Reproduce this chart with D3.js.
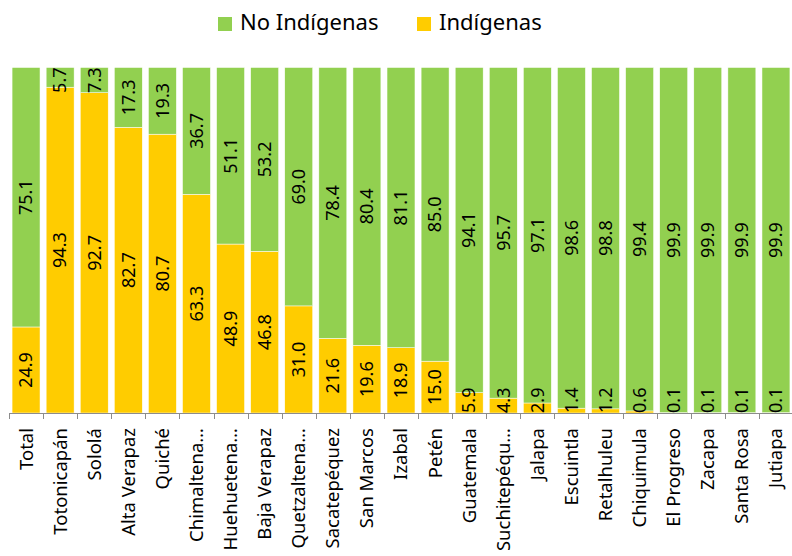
<!DOCTYPE html>
<meta charset="utf-8">
<style>
    body { margin: 0; background: #fff; }
    svg { font-family: "Noto Sans", sans-serif; }
    .axis path, .axis line { fill: none; stroke: #8c8c8c; shape-rendering: crispEdges; }
</style>
<body>
<script src="https://d3js.org/d3.v7.min.js"></script>
<script>
    // departamentos, porcentaje de poblacion indigena / no indigena
    const categories = ["Total", "Totonicapán", "Sololá", "Alta Verapaz", "Quiché", "Chimaltena…",
        "Huehuetena…", "Baja Verapaz", "Quetzaltena…", "Sacatepéquez", "San Marcos", "Izabal",
        "Petén", "Guatemala", "Suchitepéqu…", "Jalapa", "Escuintla", "Retalhuleu", "Chiquimula",
        "El Progreso", "Zacapa", "Santa Rosa", "Jutiapa"];
    const indigenas = [24.9, 94.3, 92.7, 82.7, 80.7, 63.3, 48.9, 46.8, 31.0, 21.6, 19.6, 18.9,
        15.0, 5.9, 4.3, 2.9, 1.4, 1.2, 0.6, 0.1, 0.1, 0.1, 0.1];
    const noIndigenas = [75.1, 5.7, 7.3, 17.3, 19.3, 36.7, 51.1, 53.2, 69.0, 78.4, 80.4, 81.1,
        85.0, 94.1, 95.7, 97.1, 98.6, 98.8, 99.4, 99.9, 99.9, 99.9, 99.9];
    const seriesNames = ["Indígenas", "No Indígenas"];

    const width = 792, height = 556;
    const plot = {left: 9, right: 793, top: 67.5, bottom: 413};

    const color = d3.scaleOrdinal()
        .domain(seriesNames)
        .range(["#ffcc00", "#92d050"]);

    const svg = d3.select("body").append("svg")
        .attr("width", width)
        .attr("height", height);

    const x = d3.scaleBand()
        .domain(categories)
        .range([plot.left, plot.right])
        .paddingInner(0.18)
        .paddingOuter(0.09);

    const y = d3.scaleLinear()
        .domain([0, 100])
        .range([plot.bottom, plot.top]);

    const rows = categories.map((c, i) => ({cat: c, "Indígenas": indigenas[i], "No Indígenas": noIndigenas[i]}));
    const stack = d3.stack().keys(seriesNames)(rows);

    const layers = svg.append("g").selectAll("g")
        .data(stack)
        .join("g")
        .attr("fill", d => color(d.key));

    layers.selectAll("rect")
        .data(d => d)
        .join("rect")
        .attr("x", d => x(d.data.cat))
        .attr("width", x.bandwidth())
        .attr("y", d => y(d[1]))
        .attr("height", d => y(d[0]) - y(d[1]))
        .attr("stroke", "#ffffff")
        .attr("stroke-width", 0.5);

    // value labels, rotated, kept inside the plot area
    stack.forEach(layer => {
        layer.forEach(d => {
            const cx = x(d.data.cat) + x.bandwidth() / 2;
            const t = svg.append("text")
                .attr("font-size", 18)
                .attr("text-anchor", "middle")
                .attr("dy", "0.35em")
                .attr("fill", "#000")
                .text(d3.format(".1f")(d[1] - d[0]));
            const half = t.node().getComputedTextLength() / 2;
            let cy = (y(d[0]) + y(d[1])) / 2;
            cy = Math.max(plot.top + half, Math.min(plot.bottom - half, cy));
            t.attr("transform", "translate(" + cx + "," + cy + ") rotate(-90)");
        });
    });

    // x axis
    const axis = svg.append("g").attr("class", "axis");
    axis.append("path")
        .attr("d", "M" + plot.left + "," + (plot.bottom + 0.5) + "H" + plot.right);
    const step = x.step();
    axis.selectAll("line")
        .data(d3.range(categories.length + 1))
        .join("line")
        .attr("x1", i => Math.round(plot.left + i * step) + 0.5)
        .attr("x2", i => Math.round(plot.left + i * step) + 0.5)
        .attr("y1", plot.bottom)
        .attr("y2", plot.bottom + 6);

    axis.selectAll("text")
        .data(categories)
        .join("text")
        .attr("font-size", 18.5)
        .attr("text-anchor", "end")
        .attr("dy", "0.35em")
        .attr("fill", "#000")
        .attr("transform", d => "translate(" + (x(d) + x.bandwidth() / 2) + "," + 428 + ") rotate(-90)")
        .text(d => d);

    // legend
    const legendItems = [{name: "No Indígenas", x: 218}, {name: "Indígenas", x: 417}];
    const legend = svg.append("g").selectAll("g")
        .data(legendItems)
        .join("g")
        .attr("transform", d => "translate(" + d.x + ",17)");
    legend.append("rect")
        .attr("width", 14)
        .attr("height", 14)
        .attr("fill", d => color(d.name));
    legend.append("text")
        .attr("x", 22)
        .attr("y", 13)
        .attr("font-size", 22)
        .attr("fill", "#000")
        .text(d => d.name);
</script>
</body>
